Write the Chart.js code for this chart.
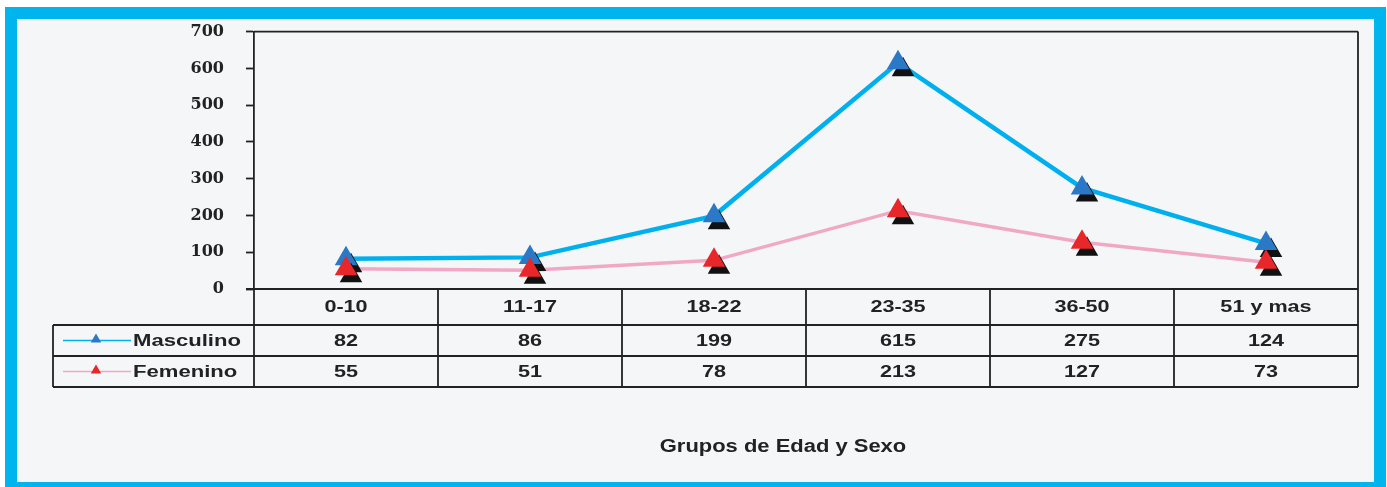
<!DOCTYPE html>
<html>
<head>
<meta charset="utf-8">
<title>Grupos de Edad y Sexo</title>
<script src="https://cdn.jsdelivr.net/npm/chart.js@4.4.0/dist/chart.umd.min.js"></script>
<style>
  html, body { margin: 0; padding: 0; background: #ffffff; overflow: hidden; }
  #frame {
    position: absolute; left: 5px; top: 7px;
    width: 1357px; height: 463px;
    border: 12px solid #00b4ee;
    background: #f5f6f8;
  }
  #chart { position: absolute; left: 0; top: 0; }
</style>
</head>
<body>
<div id="frame"></div>
<canvas id="chart" width="1387" height="487"></canvas>
<script>
// Data
const categories = ['0-10', '11-17', '18-22', '23-35', '36-50', '51 y mas'];
const masculino = [82, 86, 199, 615, 275, 124];
const femenino = [55, 51, 78, 213, 127, 73];
const seriesNames = ['Masculino', 'Femenino'];
const axisTitle = 'Grupos de Edad y Sexo';
const yMin = 0, yMax = 700, yStep = 100;

const mascLine = '#00b0ee';
const mascMark = '#2a78c6';
const femLine = '#f0a8c4';
const femMark = '#e8272b';
const ink = '#222222';

// draw text stretched horizontally, like the wide lettering in the original
function stretchText(ctx, text, x, y, font, sx, align) {
  ctx.save();
  ctx.font = font;
  ctx.fillStyle = ink;
  ctx.textBaseline = 'middle';
  ctx.textAlign = align || 'center';
  ctx.translate(x, y);
  ctx.scale(sx, 1);
  ctx.fillText(text, 0, 0);
  ctx.restore();
}

function smallTriangle(ctx, x, y, r, color) {
  ctx.beginPath();
  ctx.moveTo(x, y - r);
  ctx.lineTo(x + r * 0.87, y + r * 0.5);
  ctx.lineTo(x - r * 0.87, y + r * 0.5);
  ctx.closePath();
  ctx.fillStyle = color;
  ctx.fill();
}

// black drop shadow under the triangle markers
const shadowPlugin = {
  id: 'markerShadow',
  beforeDatasetDraw(chart, args) {
    if (!chart.data.datasets[args.index].isMarker) return;
    const ctx = chart.ctx;
    ctx.save();
    ctx.shadowColor = '#111111';
    ctx.shadowOffsetX = 5;
    ctx.shadowOffsetY = 7;
    ctx.shadowBlur = 0;
  },
  afterDatasetDraw(chart, args) {
    if (!chart.data.datasets[args.index].isMarker) return;
    chart.ctx.restore();
  }
};

// data table under the plot, plus box lines and the axis title
const tablePlugin = {
  id: 'dataTable',
  afterDraw(chart) {
    const ctx = chart.ctx;
    const a = chart.chartArea;
    const xs = chart.scales.x;
    const colW = (a.right - a.left) / categories.length;
    const row0 = a.bottom, row1 = row0 + 36, row2 = row1 + 31, row3 = row2 + 31;
    const tableLeft = 53;

    ctx.save();
    ctx.strokeStyle = ink;
    ctx.lineWidth = 1.8;
    ctx.beginPath();
    ctx.moveTo(a.left, a.top); ctx.lineTo(a.right, a.top);
    ctx.moveTo(a.right, a.top); ctx.lineTo(a.right, row3);
    ctx.moveTo(a.left, a.bottom); ctx.lineTo(a.left, row3);
    ctx.moveTo(a.left - 8, row0); ctx.lineTo(a.right, row0);
    [row1, row2, row3].forEach(function(y) {
      ctx.moveTo(tableLeft, y); ctx.lineTo(a.right, y);
    });
    ctx.moveTo(tableLeft, row1); ctx.lineTo(tableLeft, row3);
    for (let i = 1; i < categories.length; i++) {
      const x = a.left + i * colW;
      ctx.moveTo(x, row0); ctx.lineTo(x, row3);
    }
    ctx.stroke();
    ctx.restore();

    const cellFont = 'bold 16px "Liberation Sans", Arial, sans-serif';
    categories.forEach(function(c, i) {
      const x = xs.getPixelForValue(i);
      stretchText(ctx, c, x, (row0 + row1) / 2 + 1, cellFont, 1.35);
      stretchText(ctx, String(masculino[i]), x, (row1 + row2) / 2 + 1, cellFont, 1.35);
      stretchText(ctx, String(femenino[i]), x, (row2 + row3) / 2 + 1, cellFont, 1.35);
    });

    // legend keys inside the table rows
    const keys = [
      { name: seriesNames[0], line: mascLine, mark: mascMark, y: (row1 + row2) / 2 },
      { name: seriesNames[1], line: femLine, mark: femMark, y: (row2 + row3) / 2 }
    ];
    keys.forEach(function(k) {
      ctx.save();
      ctx.strokeStyle = k.line;
      ctx.lineWidth = 1.5;
      ctx.beginPath();
      ctx.moveTo(63, k.y); ctx.lineTo(131, k.y);
      ctx.stroke();
      smallTriangle(ctx, 96, k.y - 1, 6, k.mark);
      ctx.restore();
      stretchText(ctx, k.name, 133, k.y + 1, cellFont, 1.38, 'left');
    });

    stretchText(ctx, axisTitle, 783, 447, 'bold 18px "Liberation Sans", Arial, sans-serif', 1.22);
  }
};

const ctx = document.getElementById('chart').getContext('2d');
new Chart(ctx, {
  type: 'line',
  data: {
    labels: categories,
    datasets: [
      {
        label: seriesNames[1],
        data: femenino,
        showLine: false,
        isMarker: true,
        pointStyle: 'triangle',
        pointRadius: 13,
        pointBackgroundColor: femMark,
        pointBorderWidth: 0,
        clip: false,
        order: 1
      },
      {
        label: seriesNames[0],
        data: masculino,
        showLine: false,
        isMarker: true,
        pointStyle: 'triangle',
        pointRadius: 13,
        pointBackgroundColor: mascMark,
        pointBorderWidth: 0,
        clip: false,
        order: 2
      },
      {
        label: seriesNames[1] + ' linea',
        data: femenino,
        borderColor: femLine,
        borderWidth: 3.5,
        pointRadius: 0,
        tension: 0,
        order: 3
      },
      {
        label: seriesNames[0] + ' linea',
        data: masculino,
        borderColor: mascLine,
        borderWidth: 4.5,
        pointRadius: 0,
        tension: 0,
        order: 4
      }
    ]
  },
  options: {
    responsive: false,
    animation: false,
    events: [],
    layout: {
      padding: { left: 174, top: 31, right: 29, bottom: 198 }
    },
    plugins: {
      legend: { display: false },
      tooltip: { enabled: false }
    },
    scales: {
      x: {
        type: 'category',
        display: false,
        offset: true
      },
      y: {
        min: yMin,
        max: yMax,
        afterFit: function(scale) { scale.width = 80; },
        ticks: {
          stepSize: yStep,
          color: ink,
          padding: 22,
          font: { family: '"DejaVu Serif", serif', size: 16, weight: 'bold' }
        },
        grid: {
          drawOnChartArea: false,
          drawTicks: true,
          tickLength: 8,
          tickColor: ink,
          tickWidth: 1.8
        },
        border: { display: true, color: ink, width: 1.8 }
      }
    }
  },
  plugins: [shadowPlugin, tablePlugin]
});
</script>
</body>
</html>
